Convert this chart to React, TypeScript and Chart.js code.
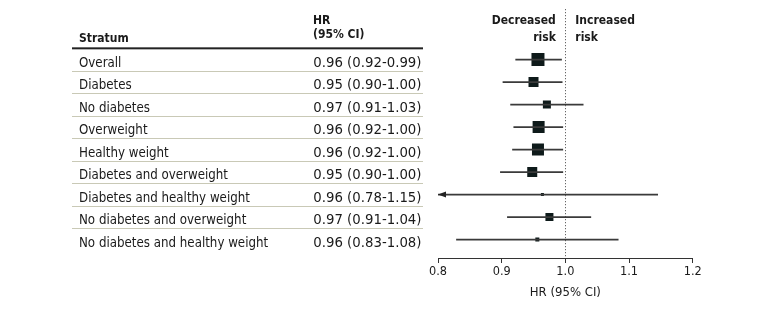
import React, { useEffect, useRef } from "react";
import { Chart, registerables } from "chart.js";

Chart.register(...registerables);

// ---- Data ----
const strata = [
  "Overall",
  "Diabetes",
  "No diabetes",
  "Overweight",
  "Healthy weight",
  "Diabetes and overweight",
  "Diabetes and healthy weight",
  "No diabetes and overweight",
  "No diabetes and healthy weight",
];
const hrText = [
  "0.96 (0.92-0.99)",
  "0.95 (0.90-1.00)",
  "0.97 (0.91-1.03)",
  "0.96 (0.92-1.00)",
  "0.96 (0.92-1.00)",
  "0.95 (0.90-1.00)",
  "0.96 (0.78-1.15)",
  "0.97 (0.91-1.04)",
  "0.96 (0.83-1.08)",
];
const hrPoint = [0.957, 0.95, 0.971, 0.958, 0.957, 0.948, 0.964, 0.975, 0.956];
const ciLow = [0.922, 0.902, 0.914, 0.919, 0.917, 0.898, 0.78, 0.909, 0.829];
const ciHigh = [0.994, 0.995, 1.028, 0.996, 0.996, 0.996, 1.145, 1.04, 1.083];
const weights = [13, 10, 8, 12, 12, 10, 3, 8, 4];
const xTicks = [0.8, 0.9, 1.0, 1.1, 1.2];
const xTitle = "HR (95% CI)";
const colStratum = "Stratum";
const colHr = ["HR", "(95% CI)"];
const leftLabel = ["Decreased", "risk"];
const rightLabel = ["Increased", "risk"];
const refValue = 1.0;

const COND = '"DejaVu Sans Condensed", "DejaVu Sans", sans-serif';
const REG = '"DejaVu Sans", sans-serif';
const TEXT = "#1a1a1a";

const tablePlugin = {
  id: "forestTable",
  beforeDatasetsDraw(chart: any) {
    const { ctx, chartArea } = chart;
    const xs = chart.scales.x;
    const xr = Math.round(xs.getPixelForValue(refValue)) + 0.5;
    ctx.save();
    ctx.strokeStyle = "#444";
    ctx.lineWidth = 1;
    ctx.setLineDash([1, 2]);
    ctx.beginPath();
    ctx.moveTo(xr, chartArea.top);
    ctx.lineTo(xr, chartArea.bottom);
    ctx.stroke();
    ctx.restore();
  },
  afterDatasetsDraw(chart: any) {
    const { ctx, chartArea } = chart;
    const xs = chart.scales.x;
    const ys = chart.scales.y;
    ctx.save();
    ctx.fillStyle = "#222";
    strata.forEach((_, i) => {
      if (ciLow[i] < xs.min) {
        const yc = ys.getPixelForValue(i);
        const l = chartArea.left;
        ctx.beginPath();
        ctx.moveTo(l, yc);
        ctx.lineTo(l + 8, yc - 3);
        ctx.lineTo(l + 8, yc + 3);
        ctx.closePath();
        ctx.fill();
      }
    });
    ctx.restore();
  },
  afterDraw(chart: any) {
    const { ctx } = chart;
    const xs = chart.scales.x;
    const ys = chart.scales.y;
    const xr = xs.getPixelForValue(refValue);
    ctx.save();
    ctx.fillStyle = TEXT;
    ctx.textBaseline = "alphabetic";
    ctx.font = `bold 12px ${COND}`;
    ctx.textAlign = "left";
    ctx.fillText(colStratum, 79, 42);
    ctx.fillText(colHr[0], 313, 24);
    ctx.fillText(colHr[1], 313, 37.5);
    ctx.textAlign = "right";
    ctx.fillText(leftLabel[0], xr - 9.5, 24);
    ctx.fillText(leftLabel[1], xr - 9.5, 41);
    ctx.textAlign = "left";
    ctx.fillText(rightLabel[0], xr + 10, 24);
    ctx.fillText(rightLabel[1], xr + 10, 41);

    const x0 = 72;
    const w = 351;
    const yh = ys.getPixelForValue(-0.5);
    ctx.fillStyle = "#222";
    ctx.fillRect(x0, yh - 1, w, 2);

    strata.forEach((s, i) => {
      const yc = ys.getPixelForValue(i);
      ctx.fillStyle = TEXT;
      ctx.textAlign = "left";
      ctx.font = `13.2px ${COND}`;
      ctx.fillText(s, 79, yc + 7.2);
      ctx.textAlign = "right";
      ctx.font = `13.3px ${REG}`;
      ctx.fillText(hrText[i], 421.5, yc + 7.2);
      if (i < strata.length - 1) {
        const ysep = Math.round(ys.getPixelForValue(i + 0.5));
        ctx.fillStyle = "#c9c9b6";
        ctx.fillRect(x0, ysep, w, 1);
      }
    });
    ctx.restore();
  },
};

export default function App() {
  const ref = useRef<HTMLCanvasElement | null>(null);
  useEffect(() => {
    const canvas = ref.current;
    if (!canvas) return;
    const chart = new Chart(canvas, {
      type: "bar",
      data: {
        datasets: [
          {
            type: "bar",
            indexAxis: "y",
            data: strata.map((_, i) => ({ x: [ciLow[i], ciHigh[i]], y: i })) as any,
            backgroundColor: "#3a3a3a",
            borderWidth: 0,
            barThickness: 1,
            grouped: false,
          } as any,
          {
            type: "scatter",
            data: strata.map((_, i) => ({ x: hrPoint[i], y: i })),
            pointStyle: "rect",
            pointRadius: weights.map((w) => w / Math.SQRT2),
            pointHoverRadius: weights.map((w) => w / Math.SQRT2),
            backgroundColor: "#0e1a1a",
            borderWidth: 0,
          } as any,
        ],
      },
      options: {
        responsive: false,
        animation: false,
        events: [],
        layout: { padding: { left: 438, right: 87.3, top: 8, bottom: 0 } },
        plugins: { legend: { display: false }, tooltip: { enabled: false } },
        scales: {
          x: {
            type: "linear",
            min: 0.8,
            max: 1.2,
            offset: false,
            afterBuildTicks: (s: any) => {
              s.ticks = xTicks.map((v) => ({ value: v }));
            },
            afterFit: (s: any) => {
              s.height = 52;
            },
            border: { color: "#333", width: 1 },
            grid: { offset: false, drawOnChartArea: false, drawTicks: true, tickLength: 5, color: "#333" },
            ticks: {
              padding: 1,
              color: TEXT,
              font: { family: COND, size: 12.6 },
              callback: (v: any) => Number(v).toFixed(1),
            },
            title: {
              display: true,
              text: xTitle,
              color: TEXT,
              font: { family: COND, size: 13 },
              padding: { top: 0, bottom: 10 },
            },
          },
          y: {
            type: "linear",
            min: -2.24,
            max: 8.82,
            reverse: true,
            offset: false,
            grid: { offset: false },
            display: false,
          },
        },
      } as any,
      plugins: [tablePlugin],
    });
    return () => chart.destroy();
  }, []);
  return (
    <div style={{ position: "fixed", left: 0, top: 0, width: 780, height: 310, background: "#fff" }}>
      <canvas ref={ref} width={780} height={310} />
    </div>
  );
}
